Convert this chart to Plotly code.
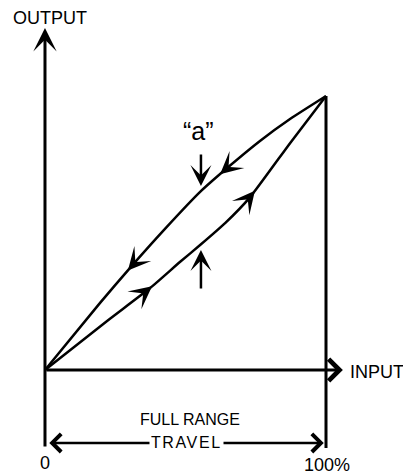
import numpy as np
import plotly.graph_objects as go

# Hysteresis loop, input / output in % of full range
loading_in = [0, 22.1, 37.4, 48.0, 55.2, 64.1, 73.0, 87.2, 100]
loading_out = [0, 17.9, 29.9, 39.4, 45.6, 53.6, 63.1, 82.8, 100]
unloading_in = [0, 19.6, 30.2, 42.7, 55.2, 64.8, 76.5, 87.2, 100]
unloading_out = [0, 24.5, 37.2, 51.5, 65.0, 73.7, 83.6, 91.6, 100]

# where the direction arrows sit along each branch (input %)
loading_arrows = [38.1, 74.7]
unloading_arrows = [62.3, 29.5]

FONT = "Liberation Sans, Arial, Helvetica, sans-serif"
BLACK = "#000000"

fig = go.Figure()

fig.add_trace(go.Scatter(x=loading_in, y=loading_out, mode="lines",
                         line=dict(color=BLACK, width=2.5, shape="spline", smoothing=0.5),
                         hoverinfo="skip", showlegend=False))
fig.add_trace(go.Scatter(x=unloading_in, y=unloading_out, mode="lines",
                         line=dict(color=BLACK, width=2.5, shape="spline", smoothing=0.5),
                         hoverinfo="skip", showlegend=False))
# right hand limit line at 100 %
fig.add_trace(go.Scatter(x=[100, 100], y=[100, -28.5], mode="lines",
                         line=dict(color=BLACK, width=3),
                         hoverinfo="skip", showlegend=False))

annotations = []


def arrow(x, y, ax, ay, head=3, size=1.0, width=2.5, side="end"):
    annotations.append(dict(x=x, y=y, ax=ax, ay=ay, xref="x", yref="y",
                            axref="x", ayref="y", text="", showarrow=True,
                            arrowhead=head, startarrowhead=head,
                            arrowsize=size, startarrowsize=size,
                            arrowwidth=width, arrowcolor=BLACK, arrowside=side))


def label(x, y, text, size=18, xanchor="center", bg=None):
    annotations.append(dict(x=x, y=y, xref="x", yref="y", text=text,
                            showarrow=False, xanchor=xanchor, yanchor="middle",
                            font=dict(family=FONT, size=size, color=BLACK),
                            bgcolor=bg, borderpad=1))


# direction markers on the loop
for xa in loading_arrows:
    arrow(xa, np.interp(xa, loading_in, loading_out),
          xa - 3, np.interp(xa - 3, loading_in, loading_out), size=1.5)
for xa in unloading_arrows:
    arrow(xa, np.interp(xa, unloading_in, unloading_out),
          xa + 3, np.interp(xa + 3, unloading_in, unloading_out), size=1.5)

# axes
arrow(0, 124.8, 0, -28.5, head=3, size=1.3, width=3)
arrow(106, 0, 0, 0, head=4, size=1.4, width=3)

# "a" gap arrows
arrow(55.5, 67.2, 55.5, 79.2, head=3, size=1.4, width=2.5)
arrow(55.5, 43.8, 55.5, 29.2, head=3, size=1.4, width=2.5)

# full range travel arrow
arrow(99.2, -26.6, 1.0, -26.6, head=4, size=1.4, width=2.5, side="end+start")

label(1.9, 128.5, "OUTPUT")
label(107.8, -0.6, "INPUT", xanchor="left")
label(54.8, 87.2, "\u201ca\u201d", size=25)
label(51.6, -17.9, "FULL RANGE", size=16)
label(50.3, -26.6, '<span style="letter-spacing:1.6px">TRAVEL</span>', size=16, bg="white")
label(0, -33.9, "0")
label(100.4, -34.7, "100%")

fig.update_layout(
    width=403, height=473,
    margin=dict(l=0, r=0, t=0, b=0),
    paper_bgcolor="white", plot_bgcolor="white",
    xaxis=dict(range=[-16.01, 127.4], visible=False, fixedrange=True),
    yaxis=dict(range=[-37.59, 135.04], visible=False, fixedrange=True),
    annotations=annotations,
    showlegend=False,
)

# drop the browser's default body margin so the figure sits at the page corner
fig.write_html("out.html", config={"displayModeBar": False},
               post_script="document.body.style.margin='0';")
